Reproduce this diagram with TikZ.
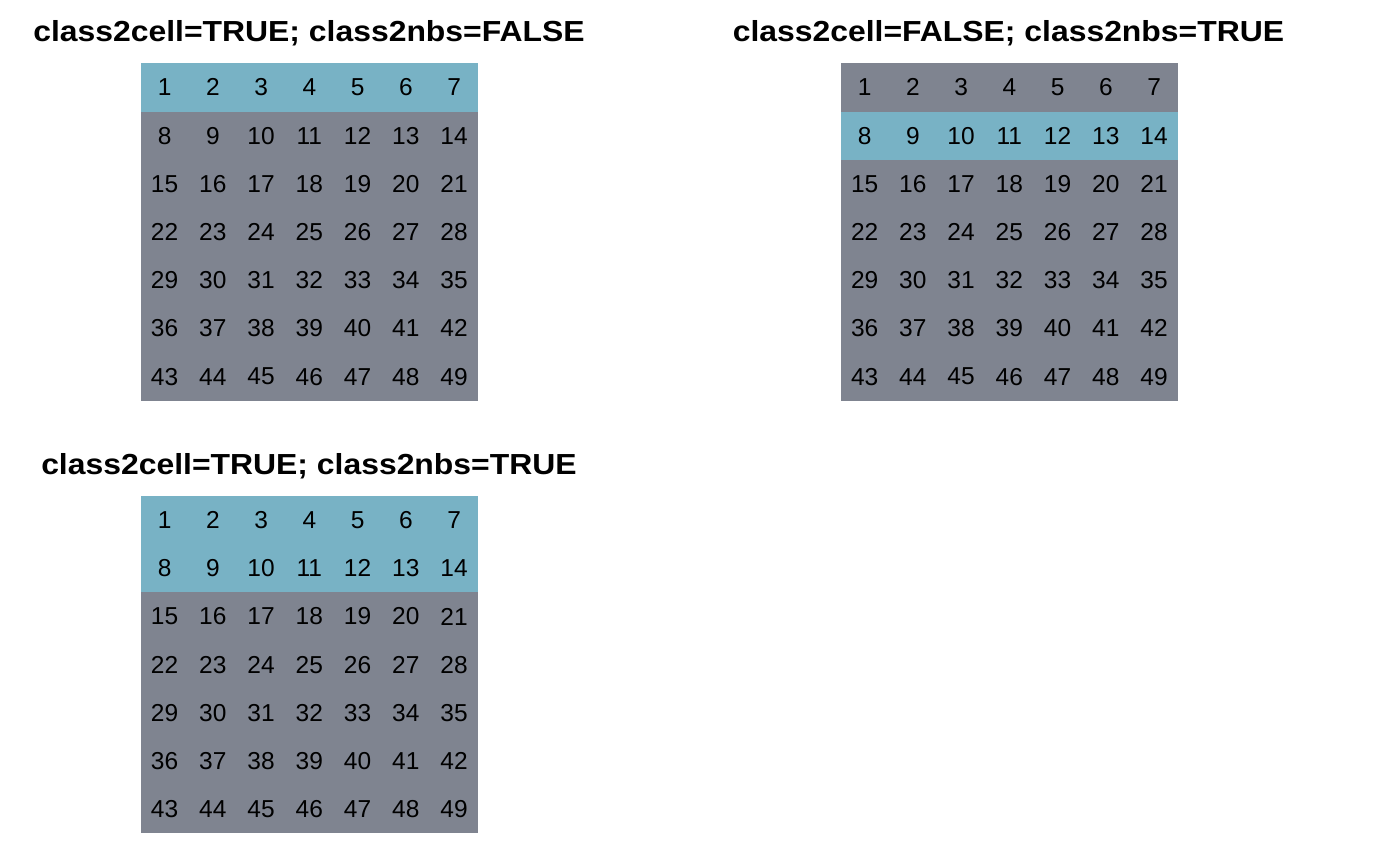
\documentclass[tikz,border=0pt]{standalone}
\usepackage{fontspec}
\setmainfont{Liberation Sans}
\definecolor{cellblue}{RGB}{120,178,197}
\definecolor{cellgrey}{RGB}{127,132,144}
\tikzset{
  cell/.style={minimum width=48.24pt, minimum height=48.2pt, inner sep=0pt, outer sep=0pt, font=\fontsize{24.5}{28}\selectfont, text=black},
  ttl/.style={anchor=base, font=\bfseries\fontsize{29}{32}\selectfont, inner sep=0pt},
}
\newcommand{\widettl}[1]{\scalebox{1.1}[1]{#1}}
\begin{document}
\begin{tikzpicture}[x=1pt,y=-1pt]
\useasboundingbox (0,0) rectangle (1400,865);
\foreach \g/\xo/\yo/\blues in {a/140.5/63.3/{1},b/840.5/63.3/{2},c/140.5/496/{1,2}}{
  \foreach \r in {1,...,7}{
    \foreach \c in {1,...,7}{
      \pgfmathtruncatemacro{\n}{(\r-1)*7+\c}
      \def\fillc{cellgrey}
      \foreach \b in \blues {\ifnum\b=\r\global\let\fillc\relax\fi}
      \ifx\fillc\relax\def\fillc{cellblue}\fi
      \node[cell, fill=\fillc] (\g\n) at ({\xo+(\c-0.5)*48.24},{\yo+(\r-0.5)*48.2}) {\n};
    }
  }
}
\node[ttl] (t1) at (309,41.5) {\widettl{class2cell=TRUE; class2nbs=FALSE}};
\node[ttl] (t2) at (1008.5,41.5) {\widettl{class2cell=FALSE; class2nbs=TRUE}};
\node[ttl] (t3) at (309,474.5) {\widettl{class2cell=TRUE; class2nbs=TRUE}};
\end{tikzpicture}
\end{document}
